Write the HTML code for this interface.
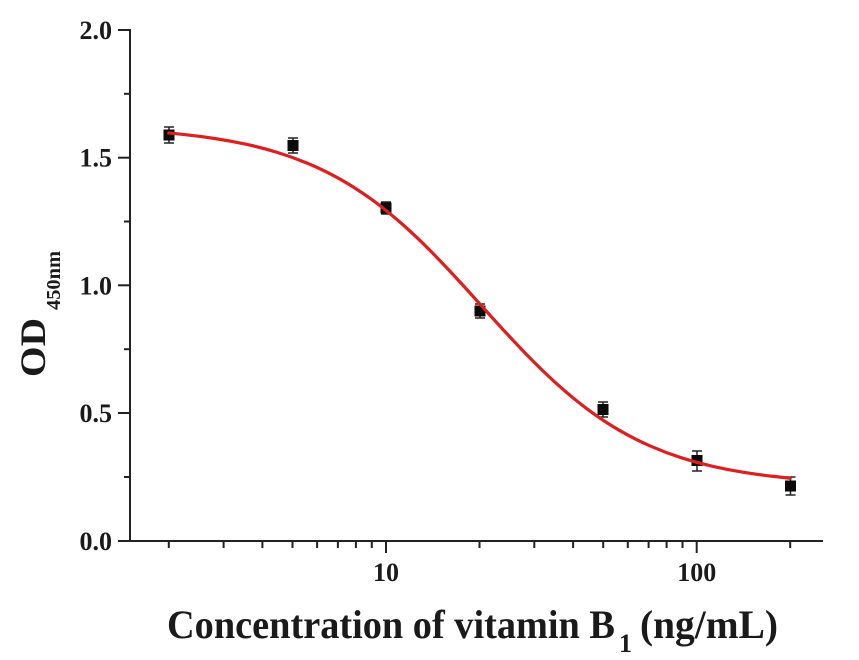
<!DOCTYPE html>
<html>
<head>
<meta charset="utf-8">
<style>
  html, body { margin: 0; padding: 0; background: #ffffff; }
  body { width: 859px; height: 660px; overflow: hidden; }
  svg { display: block; }
  text { font-family: "Liberation Serif", "Times New Roman", serif; font-weight: bold; fill: #1a1a1a; }
</style>
</head>
<body>
<svg width="859" height="660" viewBox="0 0 859 660" xmlns="http://www.w3.org/2000/svg">
  <rect x="0" y="0" width="859" height="660" fill="#ffffff"/>

  <!-- Axes -->
  <g stroke="#222" stroke-width="2" fill="none" stroke-linecap="square">
    <line x1="130" y1="30" x2="130" y2="541"/>
    <line x1="130" y1="541" x2="822" y2="541"/>
  </g>

  <!-- Y ticks -->
  <g stroke="#222" stroke-width="2">
    <line x1="118" y1="541" x2="130" y2="541"/>
    <line x1="118" y1="413" x2="130" y2="413"/>
    <line x1="118" y1="285.3" x2="130" y2="285.3"/>
    <line x1="118" y1="157.7" x2="130" y2="157.7"/>
    <line x1="118" y1="30" x2="130" y2="30"/>
    <line x1="124" y1="477" x2="130" y2="477"/>
    <line x1="124" y1="349.2" x2="130" y2="349.2"/>
    <line x1="124" y1="221.5" x2="130" y2="221.5"/>
    <line x1="124" y1="93.8" x2="130" y2="93.8"/>
  </g>

  <!-- X ticks -->
  <g stroke="#222" stroke-width="2">
    <line x1="168.8" y1="541" x2="168.8" y2="548"/>
    <line x1="223.6" y1="541" x2="223.6" y2="548"/>
    <line x1="262.4" y1="541" x2="262.4" y2="548"/>
    <line x1="292.5" y1="541" x2="292.5" y2="548"/>
    <line x1="317.1" y1="541" x2="317.1" y2="548"/>
    <line x1="337.9" y1="541" x2="337.9" y2="548"/>
    <line x1="355.9" y1="541" x2="355.9" y2="548"/>
    <line x1="371.8" y1="541" x2="371.8" y2="548"/>
    <line x1="386" y1="541" x2="386" y2="553"/>
    <line x1="479.5" y1="541" x2="479.5" y2="548"/>
    <line x1="534.3" y1="541" x2="534.3" y2="548"/>
    <line x1="573.1" y1="541" x2="573.1" y2="548"/>
    <line x1="603.2" y1="541" x2="603.2" y2="548"/>
    <line x1="627.8" y1="541" x2="627.8" y2="548"/>
    <line x1="648.6" y1="541" x2="648.6" y2="548"/>
    <line x1="666.6" y1="541" x2="666.6" y2="548"/>
    <line x1="682.5" y1="541" x2="682.5" y2="548"/>
    <line x1="696.7" y1="541" x2="696.7" y2="553"/>
    <line x1="790.2" y1="541" x2="790.2" y2="548"/>
  </g>

  <!-- Y tick labels -->
  <g font-size="26" text-anchor="end">
    <text x="112" y="550">0.0</text>
    <text x="112" y="422">0.5</text>
    <text x="112" y="294.3">1.0</text>
    <text x="112" y="166.7">1.5</text>
    <text x="112" y="39">2.0</text>
  </g>

  <!-- X tick labels -->
  <g font-size="26" text-anchor="middle">
    <text x="386" y="581">10</text>
    <text x="696.7" y="581">100</text>
  </g>

  <!-- Y axis title -->
  <g transform="rotate(-90)">
    <text x="-377" y="45" font-size="36" textLength="59" lengthAdjust="spacingAndGlyphs">OD</text>
    <text x="-310" y="60" font-size="20" textLength="59" lengthAdjust="spacingAndGlyphs">450nm</text>
  </g>

  <!-- X axis title -->
  <text x="167" y="638" font-size="40" textLength="448" lengthAdjust="spacingAndGlyphs">Concentration of vitamin B</text>
  <text x="619" y="652" font-size="26">1</text>
  <text x="640" y="638" font-size="40" textLength="138" lengthAdjust="spacingAndGlyphs">(ng/mL)</text>

  <!-- Error bars -->
  <g stroke="#222" stroke-width="1.5">
    <line x1="169" y1="127" x2="169" y2="143"/><line x1="164" y1="127" x2="174" y2="127"/><line x1="164" y1="143" x2="174" y2="143"/>
    <line x1="293" y1="138" x2="293" y2="153"/><line x1="288" y1="138" x2="298" y2="138"/><line x1="288" y1="153" x2="298" y2="153"/>
    <line x1="386" y1="202" x2="386" y2="214"/><line x1="381" y1="202" x2="391" y2="202"/><line x1="381" y1="214" x2="391" y2="214"/>
    <line x1="480" y1="304" x2="480" y2="318"/><line x1="475" y1="304" x2="485" y2="304"/><line x1="475" y1="318" x2="485" y2="318"/>
    <line x1="603" y1="402" x2="603" y2="417"/><line x1="598" y1="402" x2="608" y2="402"/><line x1="598" y1="417" x2="608" y2="417"/>
    <line x1="697" y1="451" x2="697" y2="471"/><line x1="692" y1="451" x2="702" y2="451"/><line x1="692" y1="471" x2="702" y2="471"/>
    <line x1="790.5" y1="477" x2="790.5" y2="495"/><line x1="785.5" y1="477" x2="795.5" y2="477"/><line x1="785.5" y1="495" x2="795.5" y2="495"/>
  </g>

  <!-- Markers -->
  <g fill="#0a0a0a">
    <rect x="163.5" y="129.5" width="11" height="11"/>
    <rect x="287.5" y="140" width="11" height="11"/>
    <rect x="380.5" y="202.5" width="11" height="11"/>
    <rect x="474.5" y="305.5" width="11" height="11"/>
    <rect x="597.5" y="404" width="11" height="11"/>
    <rect x="691.5" y="455" width="11" height="11"/>
    <rect x="785" y="480.5" width="11" height="11"/>
  </g>

  <!-- Fitted curve (smoothed) -->
  <path fill="none" stroke="#dd1f1f" stroke-width="3.2" stroke-linejoin="round" stroke-linecap="round"
    d="M168.83,132.94 L184.37,134.59
       Q199.90,136.24 215.44,138.61
       Q230.97,140.98 246.51,144.36
       Q262.04,147.74 277.58,152.48
       Q293.11,157.22 308.65,163.73
       Q324.18,170.24 339.72,178.94
       Q355.25,187.64 370.79,198.84
       Q386.32,210.03 401.86,223.75
       Q417.39,237.47 432.93,253.34
       Q448.46,269.21 464.00,286.37
       Q479.53,303.53 495.07,320.77
       Q510.60,338.00 526.14,354.09
       Q541.67,370.18 557.21,384.22
       Q572.74,398.25 588.28,409.78
       Q603.81,421.30 619.35,430.31
       Q634.88,439.31 650.42,446.09
       Q665.95,452.87 681.49,457.82
       Q697.02,462.76 712.56,466.30
       Q728.09,469.83 743.63,472.31
       Q759.16,474.79 774.70,476.52
       L790.23,478.25"/>
</svg>
</body>
</html>
